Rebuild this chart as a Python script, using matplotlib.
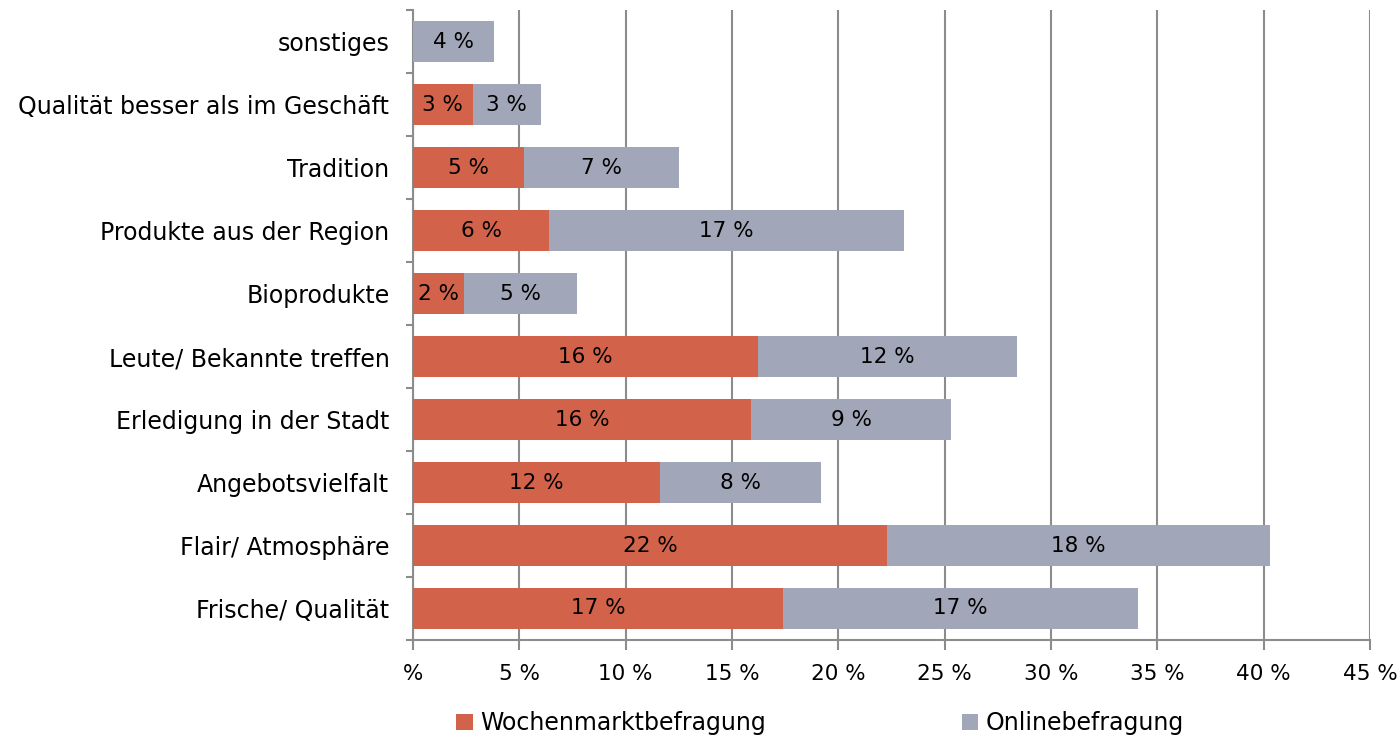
import numpy as np
import matplotlib.pyplot as plt
from matplotlib.ticker import FixedLocator

plt.rcParams['font.family'] = ['DejaVu Sans']

#=============================
# Data
#=============================
categories = ['Frische/ Qualität', 'Flair/ Atmosphäre', 'Angebotsvielfalt',
              'Erledigung in der Stadt', 'Leute/ Bekannte treffen', 'Bioprodukte',
              'Produkte aus der Region', 'Tradition',
              'Qualität besser als im Geschäft', 'sonstiges']
wochenmarkt = [17.4, 22.3, 11.6, 15.9, 16.2, 2.4, 6.4, 5.2, 2.8, 0.0]
online = [16.7, 18.0, 7.6, 9.4, 12.2, 5.3, 16.7, 7.3, 3.2, 3.8]
xticks = [0, 5, 10, 15, 20, 25, 30, 35, 40, 45]
xticklabels = ['%'] + ['%d %%' % t for t in xticks[1:]]

red = '#D2634A'
grey = '#A1A6B8'
axcol = '#8C8C8C'
fs = 17    # category / legend text
fs_num = 15.5  # numbers

#=============================
# Plot
#=============================
fig = plt.figure(figsize=(14, 7.39), dpi=100)
ax = fig.add_axes([0.295, 0.134, 0.9786 - 0.295, 0.986 - 0.134])

y = np.arange(len(categories))
b1 = ax.barh(y, wochenmarkt, height=0.65, color=red, label='Wochenmarktbefragung', zorder=3)
b2 = ax.barh(y, online, left=wochenmarkt, height=0.65, color=grey, label='Onlinebefragung', zorder=3)

for i in range(len(categories)):
    if wochenmarkt[i] > 0:
        ax.text(wochenmarkt[i] / 2., y[i], '%d %%' % round(wochenmarkt[i]),
                ha='center', va='center', fontsize=fs_num, zorder=4)
    ax.text(wochenmarkt[i] + online[i] / 2., y[i], '%d %%' % round(online[i]),
            ha='center', va='center', fontsize=fs_num, zorder=4)

ax.set_xlim(0, 45)
ax.set_ylim(-0.5, len(categories) - 0.5)
ax.set_xticks(xticks)
ax.set_xticklabels(xticklabels, fontsize=fs_num)
ax.set_yticks(y)
ax.set_yticklabels(categories, fontsize=fs)
ax.yaxis.set_minor_locator(FixedLocator(np.arange(-0.5, len(categories), 1)))
ax.tick_params(axis='y', which='major', length=0, pad=17)
ax.tick_params(axis='y', which='minor', length=5, width=1.5, color=axcol)
ax.tick_params(axis='x', length=7, width=1.5, color=axcol, pad=10)
ax.grid(axis='x', color=axcol, lw=1.5, zorder=0)
for s in ['top', 'right']:
    ax.spines[s].set_visible(False)
for s in ['left', 'bottom']:
    ax.spines[s].set_color(axcol)
    ax.spines[s].set_linewidth(1.5)

fig.legend(loc='center left', bbox_to_anchor=(0.326, 0.021), ncol=2, frameon=False,
           fontsize=fs, handlelength=0.7, handleheight=0.7, handletextpad=0.3,
           columnspacing=8.3, borderaxespad=0, borderpad=0)

plt.savefig('out.png', dpi=100)
